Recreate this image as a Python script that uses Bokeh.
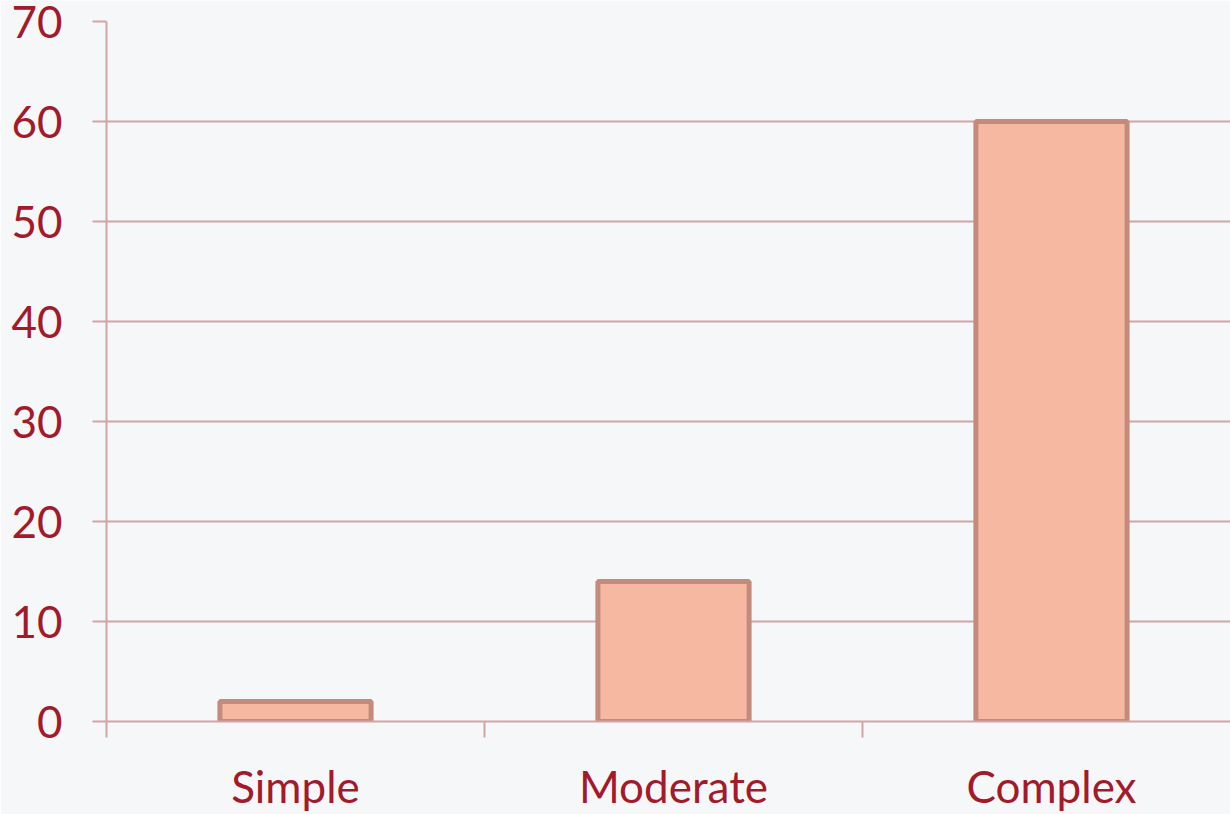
from bokeh.plotting import figure
from bokeh.models import FixedTicker, LinearAxis, Range1d
from bokeh.embed import file_html
from bokeh.resources import INLINE

categories = ["Simple", "Moderate", "Complex"]
values = [2, 14, 60]
y_ticks = [0, 10, 20, 30, 40, 50, 60, 70]

BG = "#f5f7f9"
GRID = "#d3a4a4"
TEXT = "#a31a2b"
FONT = "Lato"

W, H = 1230, 814
LEFT, TOP, BOTTOM_Y = 106, 21, 725
CAT_PX = 378

xc = [i + 0.5 for i in range(len(categories))]
bounds = [i for i in range(len(categories))]

p = figure(width=W, height=H, output_backend="svg", toolbar_location=None,
           x_range=Range1d(0, (W - LEFT) / CAT_PX), y_range=Range1d(0, 70),
           x_axis_location=None, min_border_left=LEFT, min_border_right=0,
           min_border_top=TOP, min_border_bottom=H - BOTTOM_Y)
p.background_fill_color = BG
p.border_fill_color = BG
p.outline_line_color = None

p.vbar(x=xc, top=values, width=0.4, bottom=0, fill_color="#f6b8a0",
       line_color="#c38b7b", line_width=5)

# y axis
ya = p.yaxis[0]
ya.ticker = FixedTicker(ticks=y_ticks)
ya.axis_line_color = GRID
ya.axis_line_width = 2
ya.major_tick_line_color = GRID
ya.major_tick_line_width = 2
ya.major_tick_out = 14
ya.major_tick_in = 0
ya.minor_tick_line_color = None
ya.major_label_text_font = FONT
ya.major_label_text_font_size = "44px"
ya.major_label_text_color = TEXT
ya.major_label_standoff = 30

p.xgrid.grid_line_color = None
p.ygrid.grid_line_color = GRID
p.ygrid.grid_line_width = 2
p.ygrid.ticker = FixedTicker(ticks=y_ticks)

# x axis with boundary ticks (no visible labels)
xa1 = LinearAxis(ticker=FixedTicker(ticks=bounds),
                 major_label_overrides={b: "" for b in bounds})
xa1.axis_line_color = GRID
xa1.axis_line_width = 2
xa1.major_tick_line_color = GRID
xa1.major_tick_line_width = 2
xa1.major_tick_out = 16
xa1.major_tick_in = 0
xa1.minor_tick_line_color = None
xa1.major_label_text_font_size = "1px"
xa1.major_label_text_color = None
xa1.major_label_standoff = 0
p.add_layout(xa1, "below")

# x axis with category labels
xa2 = LinearAxis(ticker=FixedTicker(ticks=xc),
                 major_label_overrides={c: n for c, n in zip(xc, categories)})
xa2.axis_line_color = None
xa2.major_tick_line_color = None
xa2.minor_tick_line_color = None
xa2.major_label_text_font = FONT
xa2.major_label_text_font_size = "44px"
xa2.major_label_text_color = TEXT
xa2.major_label_standoff = 16
p.add_layout(xa2, "below")

open("out.html", "w").write(file_html(p, INLINE))
